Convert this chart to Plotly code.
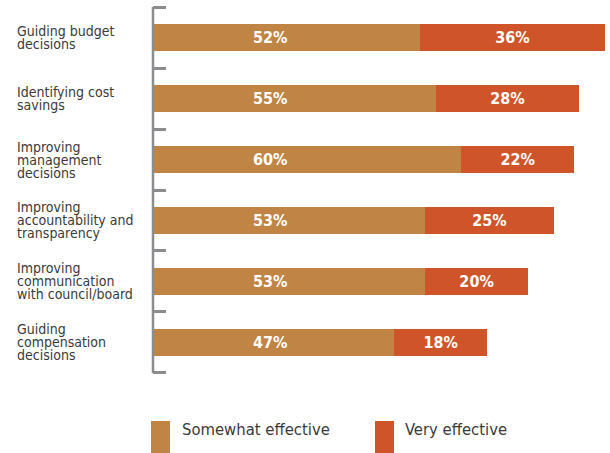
import plotly.graph_objects as go

# Survey responses: share of respondents rating each use as effective
categories = [
    "Guiding budget<br>decisions",
    "Identifying cost<br>savings",
    "Improving<br>management<br>decisions",
    "Improving<br>accountability and<br>transparency",
    "Improving<br>communication<br>with council/board",
    "Guiding<br>compensation<br>decisions",
]
somewhat_effective = [52, 55, 60, 53, 53, 47]
very_effective = [36, 28, 22, 25, 20, 18]
series_names = ["Somewhat effective", "Very effective"]

BROWN = "#C08445"
ORANGE = "#D0542A"
AXIS_GRAY = "#8C8D8F"
TEXT = "#3A3A3A"
LABEL_FONT = "DejaVu Sans Condensed, Liberation Sans Narrow, sans-serif"

W, H = 610, 453
PAD = 0.05                      # extra category units above/below the bars
UNIT = 61                       # pixels per category row
ML, MR = 153, 5
MT, MB = 7 - int(PAD * UNIT), 80 - int(PAD * UNIT)
PW, PH = W - ML - MR, H - MT - MB


def px_x(px):
    return (px - ML) / PW


def px_y(py):
    return (H - MB - py) / PH


ypos = list(range(len(categories)))
n_cat = len(categories)

fig = go.Figure()
fig.add_trace(go.Bar(
    y=ypos, x=somewhat_effective, orientation="h", width=0.43,
    marker=dict(color=BROWN, line=dict(width=0)), name=series_names[0],
    hoverinfo="x", showlegend=False,
))
fig.add_trace(go.Bar(
    y=ypos, x=very_effective, orientation="h", width=0.43,
    marker=dict(color=ORANGE, line=dict(width=0)), name=series_names[1],
    text=[f"{v}%" for v in very_effective], textposition="inside",
    insidetextanchor="middle", textangle=0,
    textfont=dict(family=LABEL_FONT, size=16, color="white", weight="bold"),
    hoverinfo="x", showlegend=False,
))

annotations = []
# Value labels for the first segment sit at a common offset from the axis
for i, v in enumerate(somewhat_effective):
    annotations.append(dict(
        x=22.8, y=i, xref="x", yref="y", text=f"<b>{v}%</b>", showarrow=False,
        font=dict(family=LABEL_FONT, size=16, color="white"),
        xanchor="center", yanchor="middle",
    ))

# Left-aligned category labels, one annotation per line for tight leading
pitch = 13
for i, cat in enumerate(categories):
    lines = cat.split("<br>")
    n = len(lines)
    for j, line in enumerate(lines):
        offset = (j - (n - 1) / 2) * pitch
        annotations.append(dict(
            x=px_x(16), y=i, xref="paper", yref="y", text=line, showarrow=False,
            xanchor="left", yanchor="middle", yshift=-offset, borderpad=0,
            font=dict(family=LABEL_FONT, size=14, color=TEXT),
        ))

# Vertical axis spine spanning exactly the category rows
shapes = [dict(
    type="line", xref="paper", yref="y",
    x0=px_x(153), x1=px_x(153), y0=-0.5, y1=n_cat - 0.5,
    line=dict(color=AXIS_GRAY, width=2.5),
)]

# Legend entries drawn as tall swatches with captions
legend_items = [(151, 170, 180, BROWN), (375, 394, 403, ORANGE)]
for (x0, x1, tx, col), name in zip(legend_items, series_names):
    shapes.append(dict(
        type="rect", xref="paper", yref="paper",
        x0=px_x(x0), x1=px_x(x1), y0=px_y(453), y1=px_y(421),
        fillcolor=col, line=dict(width=0),
    ))
    annotations.append(dict(
        x=px_x(tx), y=px_y(429), xref="paper", yref="paper", text=name,
        showarrow=False, xanchor="left", yanchor="middle",
        font=dict(family=LABEL_FONT, size=16.5, color=TEXT),
    ))

fig.update_layout(
    width=W, height=H,
    margin=dict(l=ML, r=MR, t=MT, b=MB, pad=0),
    barmode="stack",
    plot_bgcolor="white", paper_bgcolor="white",
    xaxis=dict(range=[0, 88], visible=False, fixedrange=True),
    yaxis=dict(
        range=[n_cat - 0.5 + PAD, -0.5 - PAD],
        tickvals=[k - 0.5 for k in range(n_cat + 1)],
        ticks="inside", ticklen=13, tickwidth=2.5, tickcolor=AXIS_GRAY,
        showticklabels=False, showgrid=False, zeroline=False,
        showline=False, fixedrange=True,
    ),
    annotations=annotations,
    shapes=shapes,
    uniformtext=dict(mode=False),
)

fig.write_html("out.html")
